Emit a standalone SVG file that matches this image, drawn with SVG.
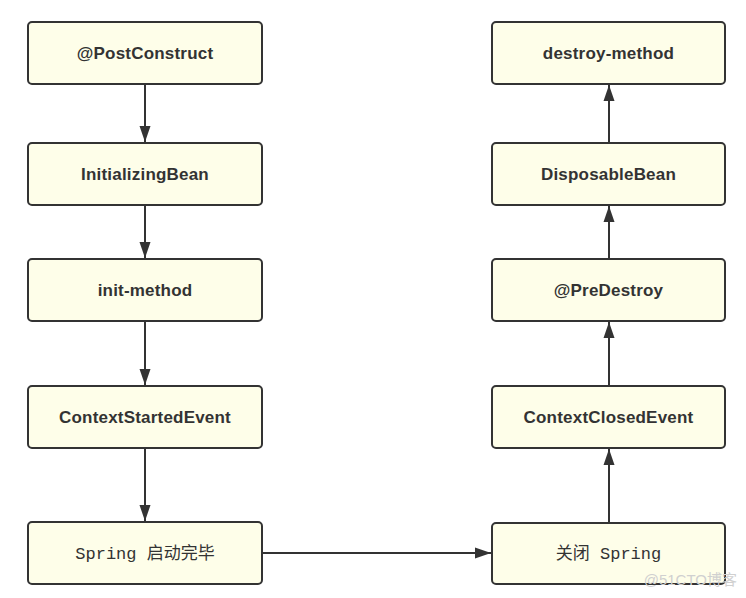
<svg xmlns="http://www.w3.org/2000/svg" width="746" height="598" viewBox="0 0 746 598">
<defs>
<style>
.box{fill:#fefee9;stroke:#333;stroke-width:2}
.t{font-family:"Liberation Sans",Arial,sans-serif;font-weight:bold;font-size:17px;letter-spacing:0.2px;fill:#333;text-anchor:middle}
.m{font-family:"Liberation Mono","Noto Sans CJK SC",monospace;font-size:17px;fill:#333;text-anchor:middle}
.ln{stroke:#333;stroke-width:2;fill:none}
</style>
<marker id="ah" markerWidth="16" markerHeight="12" refX="16" refY="6" orient="auto" markerUnits="userSpaceOnUse">
<path d="M0,0.5 L16,6 L0,11.5 Z" fill="#333"/>
</marker>
</defs>
<rect width="746" height="598" fill="#fff"/>
<g id="connectors">
<line class="ln" x1="145" y1="84" x2="145" y2="142" marker-end="url(#ah)"/>
<line class="ln" x1="145" y1="205" x2="145" y2="258" marker-end="url(#ah)"/>
<line class="ln" x1="145" y1="321" x2="145" y2="385" marker-end="url(#ah)"/>
<line class="ln" x1="145" y1="448" x2="145" y2="521" marker-end="url(#ah)"/>
<line class="ln" x1="262" y1="553" x2="491" y2="553" marker-end="url(#ah)"/>
<line class="ln" x1="609" y1="523" x2="609" y2="449" marker-end="url(#ah)"/>
<line class="ln" x1="609" y1="386" x2="609" y2="322" marker-end="url(#ah)"/>
<line class="ln" x1="609" y1="259" x2="609" y2="206" marker-end="url(#ah)"/>
<line class="ln" x1="609" y1="143" x2="609" y2="85" marker-end="url(#ah)"/>
</g>
<g id="postconstruct"><rect class="box" x="28" y="22" width="234" height="62" rx="4"/><text class="t" x="145" y="59">@PostConstruct</text></g>
<g id="initializingbean"><rect class="box" x="28" y="143" width="234" height="62" rx="4"/><text class="t" x="145" y="180">InitializingBean</text></g>
<g id="initmethod"><rect class="box" x="28" y="259" width="234" height="62" rx="4"/><text class="t" x="145" y="296">init-method</text></g>
<g id="contextstarted"><rect class="box" x="28" y="386" width="234" height="62" rx="4"/><text class="t" x="145" y="423">ContextStartedEvent</text></g>
<g id="springstarted"><rect class="box" x="28" y="522" width="234" height="62" rx="4"/><text class="m" x="145" y="559">Spring 启动完毕</text></g>
<g id="destroymethod"><rect class="box" x="492" y="22" width="233" height="62" rx="4"/><text class="t" x="608.5" y="59">destroy-method</text></g>
<g id="disposablebean"><rect class="box" x="492" y="143" width="233" height="62" rx="4"/><text class="t" x="608.5" y="180">DisposableBean</text></g>
<g id="predestroy"><rect class="box" x="492" y="259" width="233" height="62" rx="4"/><text class="t" x="608.5" y="296">@PreDestroy</text></g>
<g id="contextclosed"><rect class="box" x="492" y="386" width="233" height="62" rx="4"/><text class="t" x="608.5" y="423">ContextClosedEvent</text></g>
<g id="springclose"><rect class="box" x="492" y="523" width="233" height="61" rx="4"/><text class="m" x="608.5" y="559">关闭 Spring</text></g>
<text x="737" y="585" font-family="'Liberation Sans','Noto Sans CJK SC',sans-serif" font-size="15" fill="#d0d0d0" text-anchor="end">@51CTO博客</text>
</svg>
